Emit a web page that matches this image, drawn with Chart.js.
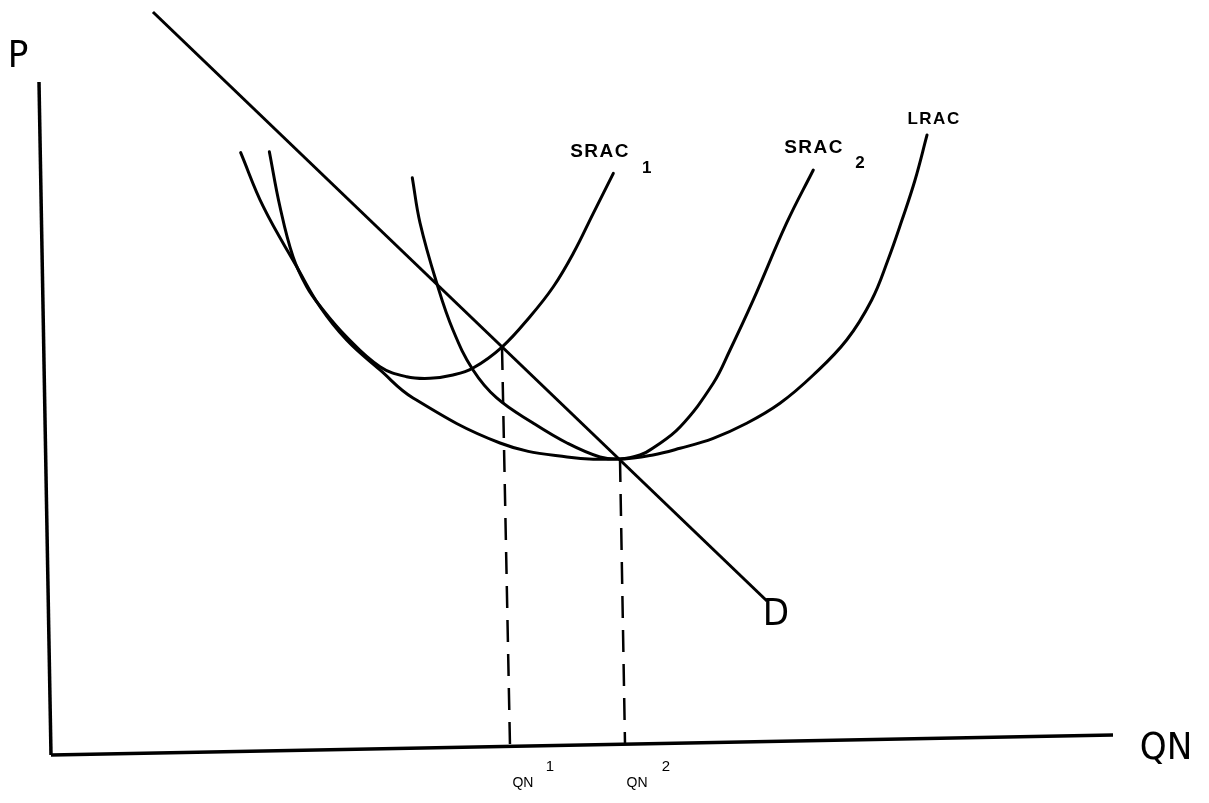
<!DOCTYPE html>
<html>
<head>
<meta charset="utf-8">
<script src="https://cdn.jsdelivr.net/npm/chart.js@4/dist/chart.umd.min.js"></script>
<style>
html,body{margin:0;padding:0;background:#fff;}
#wrap{width:1209px;height:803px;}
</style>
</head>
<body>
<div id="wrap"><canvas id="c" width="1209" height="803"></canvas></div>
<script>
// Quantity (Q) and price (P) values (axis scale 0..100)
const lracQ  = [17.86, 19.99, 23.14, 25.33, 27.84, 30.98, 34.09, 42.28, 48.59, 53.58, 56.69, 59.23, 62.36, 65.51, 68.64, 71.78, 74.92, 77.28, 78.81, 80.13, 81.36, 82.49];
const lracP  = [89.50, 81.47, 72.56, 66.61, 61.66, 57.21, 53.05, 46.36, 44.28, 43.98, 44.58, 45.57, 47.06, 49.29, 52.26, 56.46, 61.66, 67.61, 73.55, 79.49, 85.44, 92.13];

const srac1Q = [20.56, 21.56, 22.79, 24.08, 25.33, 27.84, 30.98, 33.49, 35.69, 37.85, 39.74, 42.44, 45.10, 47.30, 49.18, 51.06, 52.95];
const srac1P = [89.64, 81.47, 74.04, 69.58, 66.72, 62.11, 57.70, 56.21, 55.97, 56.46, 57.50, 60.58, 65.13, 69.58, 74.55, 80.49, 86.43];

const srac2Q = [34.02, 34.75, 36.32, 37.85, 39.74, 41.97, 45.39, 48.59, 51.69, 53.58, 55.46, 56.69, 59.23, 62.36, 63.94, 66.13, 69.27, 71.78];
const srac2P = [85.78, 79.05, 70.13, 63.15, 57.21, 53.05, 49.33, 46.36, 44.28, 43.98, 44.58, 45.62, 48.74, 55.23, 60.18, 67.61, 79.05, 86.92];

const demandQ = [9.60, 67.42];
const demandP = [110.4, 22.88];

const qn1Q = [42.47, 43.22];
const qn1P = [60.47, 1.34];
const qn2Q = [53.58, 54.05];
const qn2P = [43.83, 1.60];

const yAxisQ = [-1.13, 0];
const yAxisP = [100, 0];
const xAxisQ = [0, 100];
const xAxisP = [0, 2.97];

// Text labels
const labelTexts = ['P', 'QN', 'D', 'SRAC', '1', 'SRAC', '2', 'LRAC', 'QN', '1', 'QN', '2'];
const labelQ     = [-3.11, 104.99, 68.27, 51.70, 56.10, 71.85, 76.18, 83.15, 44.44, 46.99, 55.18, 57.91];
const labelP     = [103.7, 0.89, 20.8, 89.6, 87.2, 90.2, 87.97, 94.5, -4.16, -1.78, -4.16, -1.71];
const labelFont  = ['38px "Liberation Sans Narrow", "DejaVu Sans Condensed", sans-serif',
                    '38px "Liberation Sans Narrow", "DejaVu Sans Condensed", sans-serif',
                    '38px "Liberation Sans Narrow", "DejaVu Sans Condensed", sans-serif',
                    'bold 19px "Liberation Sans", sans-serif',
                    'bold 17px "Liberation Sans", sans-serif',
                    'bold 19px "Liberation Sans", sans-serif',
                    'bold 17px "Liberation Sans", sans-serif',
                    'bold 17px "Liberation Sans", sans-serif',
                    '14px "Liberation Sans Narrow", sans-serif',
                    '15px "Liberation Sans Narrow", sans-serif',
                    '14px "Liberation Sans Narrow", sans-serif',
                    '15px "Liberation Sans Narrow", sans-serif'];

function pts(qs, ps) { return qs.map((q, i) => ({x: q, y: ps[i]})); }

function curve(label, qs, ps) {
  return {label, data: pts(qs, ps), showLine: true, borderColor: '#000', borderWidth: 3,
          pointRadius: 0, tension: 0.4, clip: false, fill: false,
          borderCapStyle: 'round', borderJoinStyle: 'round'};
}
function straight(label, qs, ps, width, dash) {
  return {label, data: pts(qs, ps), showLine: true, borderColor: '#000', borderWidth: width,
          borderDash: dash || [], pointRadius: 0, tension: 0, clip: false, fill: false};
}

const labelPlugin = {
  id: 'labels',
  afterDatasetsDraw(chart) {
    const ctx = chart.ctx;
    const xs = chart.scales.x, ys = chart.scales.y;
    ctx.save();
    ctx.fillStyle = '#000';
    ctx.textAlign = 'center';
    ctx.textBaseline = 'middle';
    labelTexts.forEach((t, i) => {
      ctx.font = labelFont[i];
      ctx.letterSpacing = (t === 'SRAC' || t === 'LRAC') ? '1.5px' : '0px';
      ctx.fillText(t, xs.getPixelForValue(labelQ[i]), ys.getPixelForValue(labelP[i]));
    });
    ctx.restore();
  }
};

new Chart(document.getElementById('c'), {
  type: 'scatter',
  data: {
    datasets: [
      straight('Y axis', yAxisQ, yAxisP, 3.5),
      straight('X axis', xAxisQ, xAxisP, 3.5),
      straight('D', demandQ, demandP, 3),
      curve('LRAC', lracQ, lracP),
      curve('SRAC1', srac1Q, srac1P),
      curve('SRAC2', srac2Q, srac2P),
      straight('QN1', qn1Q, qn1P, 2.5, [22, 12]),
      straight('QN2', qn2Q, qn2P, 2.5, [22, 12])
    ]
  },
  options: {
    responsive: false,
    animation: false,
    layout: {padding: {left: 51, right: 96, top: 82, bottom: 48}},
    plugins: {legend: {display: false}, tooltip: {enabled: false}},
    scales: {
      x: {type: 'linear', min: 0, max: 100, display: false},
      y: {type: 'linear', min: 0, max: 100, display: false}
    }
  },
  plugins: [labelPlugin]
});
</script>
</body>
</html>
